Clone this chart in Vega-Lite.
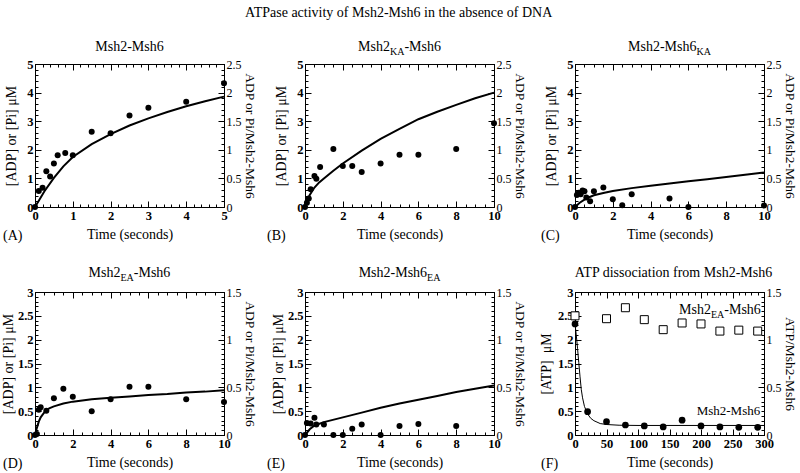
{
"$schema":"https://vega.github.io/schema/vega-lite/v6.json",
"padding":{"left":0,"top":5,"right":0,"bottom":1},
"title":{"text":"ATPase activity of Msh2-Msh6 in the absence of DNA","fontSize":14,"fontWeight":"normal","font":"Liberation Serif","anchor":"middle","offset":20,"color":"black"},
"data":{"values":[
{"p":"A","k":"pt","x":0,"y":0},{"p":"A","k":"pt","x":0.1,"y":0.56},{"p":"A","k":"pt","x":0.2,"y":0.67},{"p":"A","k":"pt","x":0.3,"y":1.25},{"p":"A","k":"pt","x":0.4,"y":1.07},{"p":"A","k":"pt","x":0.5,"y":1.52},{"p":"A","k":"pt","x":0.6,"y":1.81},{"p":"A","k":"pt","x":0.8,"y":1.89},{"p":"A","k":"pt","x":1,"y":1.81},{"p":"A","k":"pt","x":1.5,"y":2.63},{"p":"A","k":"pt","x":2,"y":2.58},{"p":"A","k":"pt","x":2.5,"y":3.2},{"p":"A","k":"pt","x":3,"y":3.47},{"p":"A","k":"pt","x":4,"y":3.68},{"p":"A","k":"pt","x":5,"y":4.33},
{"p":"A","k":"fit","x":0,"y":0},{"p":"A","k":"fit","x":0.1,"y":0.22},{"p":"A","k":"fit","x":0.25,"y":0.55},{"p":"A","k":"fit","x":0.5,"y":1.02},{"p":"A","k":"fit","x":0.75,"y":1.42},{"p":"A","k":"fit","x":1,"y":1.75},{"p":"A","k":"fit","x":1.5,"y":2.2},{"p":"A","k":"fit","x":2,"y":2.55},{"p":"A","k":"fit","x":2.5,"y":2.85},{"p":"A","k":"fit","x":3,"y":3.1},{"p":"A","k":"fit","x":3.5,"y":3.32},{"p":"A","k":"fit","x":4,"y":3.52},{"p":"A","k":"fit","x":4.5,"y":3.7},{"p":"A","k":"fit","x":5,"y":3.86},
{"p":"B","k":"pt","x":0,"y":0},{"p":"B","k":"pt","x":0.1,"y":0.15},{"p":"B","k":"pt","x":0.2,"y":0.3},{"p":"B","k":"pt","x":0.3,"y":0.62},{"p":"B","k":"pt","x":0.5,"y":1.08},{"p":"B","k":"pt","x":0.6,"y":0.99},{"p":"B","k":"pt","x":0.8,"y":1.4},{"p":"B","k":"pt","x":1.5,"y":2.03},{"p":"B","k":"pt","x":2,"y":1.43},{"p":"B","k":"pt","x":2.5,"y":1.43},{"p":"B","k":"pt","x":3,"y":1.22},{"p":"B","k":"pt","x":4,"y":1.52},{"p":"B","k":"pt","x":5,"y":1.83},{"p":"B","k":"pt","x":6,"y":1.83},{"p":"B","k":"pt","x":8,"y":2.03},{"p":"B","k":"pt","x":10,"y":2.93},
{"p":"B","k":"fit","x":0,"y":0},{"p":"B","k":"fit","x":0.1,"y":0.2},{"p":"B","k":"fit","x":0.25,"y":0.42},{"p":"B","k":"fit","x":0.5,"y":0.68},{"p":"B","k":"fit","x":0.75,"y":0.86},{"p":"B","k":"fit","x":1,"y":1.0},{"p":"B","k":"fit","x":1.5,"y":1.27},{"p":"B","k":"fit","x":2,"y":1.52},{"p":"B","k":"fit","x":3,"y":1.97},{"p":"B","k":"fit","x":4,"y":2.38},{"p":"B","k":"fit","x":5,"y":2.73},{"p":"B","k":"fit","x":6,"y":3.07},{"p":"B","k":"fit","x":7,"y":3.33},{"p":"B","k":"fit","x":8,"y":3.57},{"p":"B","k":"fit","x":9,"y":3.8},{"p":"B","k":"fit","x":10,"y":4.0},
{"p":"C","k":"pt","x":0,"y":0},{"p":"C","k":"pt","x":0.1,"y":0.42},{"p":"C","k":"pt","x":0.2,"y":0.5},{"p":"C","k":"pt","x":0.3,"y":0.45},{"p":"C","k":"pt","x":0.4,"y":0.58},{"p":"C","k":"pt","x":0.5,"y":0.55},{"p":"C","k":"pt","x":0.6,"y":0.33},{"p":"C","k":"pt","x":0.8,"y":0.2},{"p":"C","k":"pt","x":1,"y":0.55},{"p":"C","k":"pt","x":1.5,"y":0.68},{"p":"C","k":"pt","x":2,"y":0.27},{"p":"C","k":"pt","x":2.5,"y":0.06},{"p":"C","k":"pt","x":3,"y":0.45},{"p":"C","k":"pt","x":5,"y":0.3},{"p":"C","k":"pt","x":6,"y":0},{"p":"C","k":"pt","x":10,"y":0.05},
{"p":"C","k":"fit","x":0,"y":0},{"p":"C","k":"fit","x":0.25,"y":0.15},{"p":"C","k":"fit","x":0.5,"y":0.26},{"p":"C","k":"fit","x":0.75,"y":0.34},{"p":"C","k":"fit","x":1,"y":0.41},{"p":"C","k":"fit","x":1.5,"y":0.49},{"p":"C","k":"fit","x":2,"y":0.56},{"p":"C","k":"fit","x":3,"y":0.66},{"p":"C","k":"fit","x":4,"y":0.74},{"p":"C","k":"fit","x":5,"y":0.82},{"p":"C","k":"fit","x":6,"y":0.9},{"p":"C","k":"fit","x":7,"y":0.97},{"p":"C","k":"fit","x":8,"y":1.05},{"p":"C","k":"fit","x":9,"y":1.13},{"p":"C","k":"fit","x":10,"y":1.21},
{"p":"D","k":"pt","x":0,"y":0},{"p":"D","k":"pt","x":0.1,"y":0.02},{"p":"D","k":"pt","x":0.2,"y":0.53},{"p":"D","k":"pt","x":0.3,"y":0.58},{"p":"D","k":"pt","x":0.6,"y":0.51},{"p":"D","k":"pt","x":1,"y":0.77},{"p":"D","k":"pt","x":1.5,"y":0.97},{"p":"D","k":"pt","x":2,"y":0.8},{"p":"D","k":"pt","x":3,"y":0.5},{"p":"D","k":"pt","x":4,"y":0.75},{"p":"D","k":"pt","x":5,"y":1.01},{"p":"D","k":"pt","x":6,"y":1.01},{"p":"D","k":"pt","x":8,"y":0.75},{"p":"D","k":"pt","x":10,"y":0.69},
{"p":"D","k":"fit","x":0,"y":0},{"p":"D","k":"fit","x":0.1,"y":0.15},{"p":"D","k":"fit","x":0.2,"y":0.28},{"p":"D","k":"fit","x":0.3,"y":0.37},{"p":"D","k":"fit","x":0.5,"y":0.48},{"p":"D","k":"fit","x":0.75,"y":0.56},{"p":"D","k":"fit","x":1,"y":0.6},{"p":"D","k":"fit","x":1.5,"y":0.66},{"p":"D","k":"fit","x":2,"y":0.7},{"p":"D","k":"fit","x":3,"y":0.75},{"p":"D","k":"fit","x":4,"y":0.78},{"p":"D","k":"fit","x":5,"y":0.81},{"p":"D","k":"fit","x":6,"y":0.84},{"p":"D","k":"fit","x":7,"y":0.86},{"p":"D","k":"fit","x":8,"y":0.89},{"p":"D","k":"fit","x":9,"y":0.91},{"p":"D","k":"fit","x":10,"y":0.94},
{"p":"E","k":"pt","x":0,"y":0},{"p":"E","k":"pt","x":0.1,"y":0.25},{"p":"E","k":"pt","x":0.3,"y":0.24},{"p":"E","k":"pt","x":0.5,"y":0.36},{"p":"E","k":"pt","x":0.6,"y":0.22},{"p":"E","k":"pt","x":1,"y":0.22},{"p":"E","k":"pt","x":1.5,"y":0},{"p":"E","k":"pt","x":2,"y":0},{"p":"E","k":"pt","x":2.5,"y":0.13},{"p":"E","k":"pt","x":3,"y":0.22},{"p":"E","k":"pt","x":4,"y":0},{"p":"E","k":"pt","x":5,"y":0.19},{"p":"E","k":"pt","x":6,"y":0.23},{"p":"E","k":"pt","x":8,"y":0.19},
{"p":"E","k":"fit","x":0,"y":0},{"p":"E","k":"fit","x":0.25,"y":0.12},{"p":"E","k":"fit","x":0.5,"y":0.2},{"p":"E","k":"fit","x":1,"y":0.27},{"p":"E","k":"fit","x":2,"y":0.37},{"p":"E","k":"fit","x":3,"y":0.47},{"p":"E","k":"fit","x":4,"y":0.57},{"p":"E","k":"fit","x":5,"y":0.66},{"p":"E","k":"fit","x":6,"y":0.74},{"p":"E","k":"fit","x":7,"y":0.82},{"p":"E","k":"fit","x":8,"y":0.9},{"p":"E","k":"fit","x":9,"y":0.97},{"p":"E","k":"fit","x":10,"y":1.04},
{"p":"F","k":"pt","x":0,"y":2.33},{"p":"F","k":"pt","x":20,"y":0.49},{"p":"F","k":"pt","x":50,"y":0.28},{"p":"F","k":"pt","x":80,"y":0.21},{"p":"F","k":"pt","x":110,"y":0.19},{"p":"F","k":"pt","x":140,"y":0.17},{"p":"F","k":"pt","x":170,"y":0.31},{"p":"F","k":"pt","x":200,"y":0.19},{"p":"F","k":"pt","x":230,"y":0.17},{"p":"F","k":"pt","x":260,"y":0.16},{"p":"F","k":"pt","x":290,"y":0.16},
{"p":"F","k":"sq","x":0,"y":2.5},{"p":"F","k":"sq","x":50,"y":2.44},{"p":"F","k":"sq","x":80,"y":2.67},{"p":"F","k":"sq","x":110,"y":2.42},{"p":"F","k":"sq","x":140,"y":2.21},{"p":"F","k":"sq","x":170,"y":2.35},{"p":"F","k":"sq","x":200,"y":2.33},{"p":"F","k":"sq","x":230,"y":2.18},{"p":"F","k":"sq","x":260,"y":2.2},{"p":"F","k":"sq","x":290,"y":2.18},
{"p":"F","k":"fit","x":0,"y":2.33},{"p":"F","k":"fit","x":2,"y":2.1},{"p":"F","k":"fit","x":4,"y":1.82},{"p":"F","k":"fit","x":6,"y":1.52},{"p":"F","k":"fit","x":8,"y":1.22},{"p":"F","k":"fit","x":10,"y":0.95},{"p":"F","k":"fit","x":12,"y":0.78},{"p":"F","k":"fit","x":15,"y":0.6},{"p":"F","k":"fit","x":20,"y":0.44},{"p":"F","k":"fit","x":25,"y":0.35},{"p":"F","k":"fit","x":30,"y":0.3},{"p":"F","k":"fit","x":40,"y":0.24},{"p":"F","k":"fit","x":50,"y":0.22},{"p":"F","k":"fit","x":70,"y":0.205},{"p":"F","k":"fit","x":100,"y":0.2},{"p":"F","k":"fit","x":300,"y":0.2}
]},
"columns":3,
"spacing":{"row":85,"column":81},
"bounds":"flush",
"concat":[
{"width":189,"height":143,
"layer":[
{"transform":[{"filter":"datum.p=='A' && datum.k=='pt'"}],
"mark":{"type":"circle","size":36,"color":"black","opacity":1},
"encoding":{
"x":{"field":"x","type":"quantitative","scale":{"domain":[0,5]},"axis":{"orient":"bottom","values":[0,1,2,3,4,5],"title":"Time (seconds)"}},
"y":{"field":"y","type":"quantitative","scale":{"domain":[0,5]},"axis":{"orient":"left","values":[0,1,2,3,4,5],"title":"[ADP] or [Pi] μM","titlePadding":8}}}},
{"transform":[{"filter":"datum.p=='A' && datum.k=='fit'"}],
"mark":{"type":"line","color":"black","strokeWidth":2},
"encoding":{
"x":{"field":"x","type":"quantitative","scale":{"domain":[0,5]},"axis":{"orient":"top","values":[0,1,2,3,4,5],"labels":false,"title":null}},
"y":{"field":"y","type":"quantitative","scale":{"domain":[0,5]},"axis":{"orient":"right","values":[0,1,2,3,4,5],"labelExpr":"datum.value/2","title":"ADP or Pi/Msh2-Msh6"}}}},
{"data":{"values":[{}]},
"mark":{"type":"text","text":"Msh2-Msh6","align":"center","baseline":"alphabetic","dy":-13},
"encoding":{
"x":{"datum":2.5,"type":"quantitative","scale":{"domain":[0,5]},"axis":{"orient":"bottom","tickCount":25,"labels":false,"title":null,"tickSize":-3}},
"y":{"datum":5,"type":"quantitative","scale":{"domain":[0,5]},"axis":{"orient":"left","tickCount":25,"labels":false,"title":null,"tickSize":-3}}}},
{"data":{"values":[{}]},
"mark":{"type":"text","text":"(A)","align":"left","baseline":"middle","dx":-32,"dy":29},
"encoding":{
"x":{"datum":0,"type":"quantitative","scale":{"domain":[0,5]},"axis":{"orient":"top","tickCount":25,"labels":false,"title":null,"tickSize":-3}},
"y":{"datum":0,"type":"quantitative","scale":{"domain":[0,5]},"axis":{"orient":"right","tickCount":25,"labels":false,"title":null,"tickSize":-3}}}}
],
"resolve":{"axis":{"x":"independent","y":"independent"}}},
{"width":189,"height":143,
"layer":[
{"transform":[{"filter":"datum.p=='B' && datum.k=='pt'"}],
"mark":{"type":"circle","size":36,"color":"black","opacity":1},
"encoding":{
"x":{"field":"x","type":"quantitative","scale":{"domain":[0,10]},"axis":{"orient":"bottom","values":[0,2,4,6,8,10],"title":"Time (seconds)"}},
"y":{"field":"y","type":"quantitative","scale":{"domain":[0,5]},"axis":{"orient":"left","values":[0,1,2,3,4,5],"title":"[ADP] or [Pi] μM","titlePadding":8}}}},
{"transform":[{"filter":"datum.p=='B' && datum.k=='fit'"}],
"mark":{"type":"line","color":"black","strokeWidth":2},
"encoding":{
"x":{"field":"x","type":"quantitative","scale":{"domain":[0,10]},"axis":{"orient":"top","values":[0,2,4,6,8,10],"labels":false,"title":null}},
"y":{"field":"y","type":"quantitative","scale":{"domain":[0,5]},"axis":{"orient":"right","values":[0,1,2,3,4,5],"labelExpr":"datum.value/2","title":"ADP or Pi/Msh2-Msh6"}}}},
{"data":{"values":[{}]},
"mark":{"type":"text","text":"Msh2","align":"right","baseline":"alphabetic","dx":-9.5,"dy":-13},
"encoding":{
"x":{"datum":5,"type":"quantitative","scale":{"domain":[0,10]},"axis":{"orient":"bottom","tickCount":20,"labels":false,"title":null,"tickSize":-3}},
"y":{"datum":5,"type":"quantitative","scale":{"domain":[0,5]},"axis":{"orient":"left","tickCount":25,"labels":false,"title":null,"tickSize":-3}}}},
{"data":{"values":[{}]},
"mark":{"type":"text","text":"KA","fontSize":10,"align":"left","baseline":"alphabetic","dx":-9.5,"dy":-9},
"encoding":{
"x":{"datum":5,"type":"quantitative","scale":{"domain":[0,10]},"axis":{"orient":"top","tickCount":20,"labels":false,"title":null,"tickSize":-3}},
"y":{"datum":5,"type":"quantitative","scale":{"domain":[0,5]},"axis":{"orient":"right","tickCount":25,"labels":false,"title":null,"tickSize":-3}}}},
{"data":{"values":[{}]},
"mark":{"type":"text","text":"-Msh6","align":"left","baseline":"alphabetic","dx":4.9,"dy":-13},
"encoding":{
"x":{"datum":5,"type":"quantitative","scale":{"domain":[0,10]},"axis":null},
"y":{"datum":5,"type":"quantitative","scale":{"domain":[0,5]},"axis":null}}},
{"data":{"values":[{}]},
"mark":{"type":"text","text":"(B)","align":"left","baseline":"middle","dx":-38,"dy":29},
"encoding":{
"x":{"datum":0,"type":"quantitative","scale":{"domain":[0,10]},"axis":null},
"y":{"datum":0,"type":"quantitative","scale":{"domain":[0,5]},"axis":null}}}
],
"resolve":{"axis":{"x":"independent","y":"independent"}}},
{"width":189,"height":143,
"layer":[
{"transform":[{"filter":"datum.p=='C' && datum.k=='pt'"}],
"mark":{"type":"circle","size":36,"color":"black","opacity":1},
"encoding":{
"x":{"field":"x","type":"quantitative","scale":{"domain":[0,10]},"axis":{"orient":"bottom","values":[0,2,4,6,8,10],"title":"Time (seconds)"}},
"y":{"field":"y","type":"quantitative","scale":{"domain":[0,5]},"axis":{"orient":"left","values":[0,1,2,3,4,5],"title":"[ADP] or [Pi] μM","titlePadding":8}}}},
{"transform":[{"filter":"datum.p=='C' && datum.k=='fit'"}],
"mark":{"type":"line","color":"black","strokeWidth":2},
"encoding":{
"x":{"field":"x","type":"quantitative","scale":{"domain":[0,10]},"axis":{"orient":"top","values":[0,2,4,6,8,10],"labels":false,"title":null}},
"y":{"field":"y","type":"quantitative","scale":{"domain":[0,5]},"axis":{"orient":"right","values":[0,1,2,3,4,5],"labelExpr":"datum.value/2","title":"ADP or Pi/Msh2-Msh6"}}}},
{"data":{"values":[{}]},
"mark":{"type":"text","text":"Msh2-Msh6","align":"right","baseline":"alphabetic","dx":27,"dy":-13},
"encoding":{
"x":{"datum":5,"type":"quantitative","scale":{"domain":[0,10]},"axis":{"orient":"bottom","tickCount":20,"labels":false,"title":null,"tickSize":-3}},
"y":{"datum":5,"type":"quantitative","scale":{"domain":[0,5]},"axis":{"orient":"left","tickCount":25,"labels":false,"title":null,"tickSize":-3}}}},
{"data":{"values":[{}]},
"mark":{"type":"text","text":"KA","fontSize":10,"align":"left","baseline":"alphabetic","dx":27,"dy":-9},
"encoding":{
"x":{"datum":5,"type":"quantitative","scale":{"domain":[0,10]},"axis":{"orient":"top","tickCount":20,"labels":false,"title":null,"tickSize":-3}},
"y":{"datum":5,"type":"quantitative","scale":{"domain":[0,5]},"axis":{"orient":"right","tickCount":25,"labels":false,"title":null,"tickSize":-3}}}},
{"data":{"values":[{}]},
"mark":{"type":"text","text":"(C)","align":"left","baseline":"middle","dx":-34,"dy":29},
"encoding":{
"x":{"datum":0,"type":"quantitative","scale":{"domain":[0,10]},"axis":null},
"y":{"datum":0,"type":"quantitative","scale":{"domain":[0,5]},"axis":null}}}
],
"resolve":{"axis":{"x":"independent","y":"independent"}}},
{"width":189,"height":143,
"layer":[
{"transform":[{"filter":"datum.p=='D' && datum.k=='pt'"}],
"mark":{"type":"circle","size":36,"color":"black","opacity":1},
"encoding":{
"x":{"field":"x","type":"quantitative","scale":{"domain":[0,10]},"axis":{"orient":"bottom","values":[0,2,4,6,8,10],"title":"Time (seconds)"}},
"y":{"field":"y","type":"quantitative","scale":{"domain":[0,3]},"axis":{"orient":"left","values":[0,0.5,1,1.5,2,2.5,3],"format":"~g","title":"[ADP] or [Pi] μM","titlePadding":2}}}},
{"transform":[{"filter":"datum.p=='D' && datum.k=='fit'"}],
"mark":{"type":"line","color":"black","strokeWidth":2},
"encoding":{
"x":{"field":"x","type":"quantitative","scale":{"domain":[0,10]},"axis":{"orient":"top","values":[0,2,4,6,8,10],"labels":false,"title":null}},
"y":{"field":"y","type":"quantitative","scale":{"domain":[0,3]},"axis":{"orient":"right","values":[0,1,2,3],"labelExpr":"datum.value/2","title":"ADP or Pi/Msh2-Msh6"}}}},
{"data":{"values":[{}]},
"mark":{"type":"text","text":"Msh2","align":"right","baseline":"alphabetic","dx":-9,"dy":-15},
"encoding":{
"x":{"datum":5,"type":"quantitative","scale":{"domain":[0,10]},"axis":{"orient":"bottom","tickCount":20,"labels":false,"title":null,"tickSize":-3}},
"y":{"datum":3,"type":"quantitative","scale":{"domain":[0,3]},"axis":{"orient":"left","tickCount":30,"labels":false,"title":null,"tickSize":-3}}}},
{"data":{"values":[{}]},
"mark":{"type":"text","text":"EA","fontSize":10,"align":"left","baseline":"alphabetic","dx":-9,"dy":-11},
"encoding":{
"x":{"datum":5,"type":"quantitative","scale":{"domain":[0,10]},"axis":{"orient":"top","tickCount":20,"labels":false,"title":null,"tickSize":-3}},
"y":{"datum":3,"type":"quantitative","scale":{"domain":[0,3]},"axis":{"orient":"right","tickCount":30,"labels":false,"title":null,"tickSize":-3}}}},
{"data":{"values":[{}]},
"mark":{"type":"text","text":"-Msh6","align":"left","baseline":"alphabetic","dx":4.3,"dy":-15},
"encoding":{
"x":{"datum":5,"type":"quantitative","scale":{"domain":[0,10]},"axis":null},
"y":{"datum":3,"type":"quantitative","scale":{"domain":[0,3]},"axis":null}}},
{"data":{"values":[{}]},
"mark":{"type":"text","text":"(D)","align":"left","baseline":"middle","dx":-32,"dy":29},
"encoding":{
"x":{"datum":0,"type":"quantitative","scale":{"domain":[0,10]},"axis":null},
"y":{"datum":0,"type":"quantitative","scale":{"domain":[0,3]},"axis":null}}}
],
"resolve":{"axis":{"x":"independent","y":"independent"}}},
{"width":189,"height":143,
"layer":[
{"transform":[{"filter":"datum.p=='E' && datum.k=='pt'"}],
"mark":{"type":"circle","size":36,"color":"black","opacity":1},
"encoding":{
"x":{"field":"x","type":"quantitative","scale":{"domain":[0,10]},"axis":{"orient":"bottom","values":[0,2,4,6,8,10],"title":"Time (seconds)"}},
"y":{"field":"y","type":"quantitative","scale":{"domain":[0,3]},"axis":{"orient":"left","values":[0,0.5,1,1.5,2,2.5,3],"format":"~g","title":"[ADP] or [Pi] μM","titlePadding":2}}}},
{"transform":[{"filter":"datum.p=='E' && datum.k=='fit'"}],
"mark":{"type":"line","color":"black","strokeWidth":2},
"encoding":{
"x":{"field":"x","type":"quantitative","scale":{"domain":[0,10]},"axis":{"orient":"top","values":[0,2,4,6,8,10],"labels":false,"title":null}},
"y":{"field":"y","type":"quantitative","scale":{"domain":[0,3]},"axis":{"orient":"right","values":[0,1,2,3],"labelExpr":"datum.value/2","title":"ADP or Pi/Msh2-Msh6"}}}},
{"data":{"values":[{}]},
"mark":{"type":"text","text":"Msh2-Msh6","align":"right","baseline":"alphabetic","dx":27.6,"dy":-15},
"encoding":{
"x":{"datum":5,"type":"quantitative","scale":{"domain":[0,10]},"axis":{"orient":"bottom","tickCount":20,"labels":false,"title":null,"tickSize":-3}},
"y":{"datum":3,"type":"quantitative","scale":{"domain":[0,3]},"axis":{"orient":"left","tickCount":30,"labels":false,"title":null,"tickSize":-3}}}},
{"data":{"values":[{}]},
"mark":{"type":"text","text":"EA","fontSize":10,"align":"left","baseline":"alphabetic","dx":27.6,"dy":-11},
"encoding":{
"x":{"datum":5,"type":"quantitative","scale":{"domain":[0,10]},"axis":{"orient":"top","tickCount":20,"labels":false,"title":null,"tickSize":-3}},
"y":{"datum":3,"type":"quantitative","scale":{"domain":[0,3]},"axis":{"orient":"right","tickCount":30,"labels":false,"title":null,"tickSize":-3}}}},
{"data":{"values":[{}]},
"mark":{"type":"text","text":"(E)","align":"left","baseline":"middle","dx":-38,"dy":29},
"encoding":{
"x":{"datum":0,"type":"quantitative","scale":{"domain":[0,10]},"axis":null},
"y":{"datum":0,"type":"quantitative","scale":{"domain":[0,3]},"axis":null}}}
],
"resolve":{"axis":{"x":"independent","y":"independent"}}},
{"width":189,"height":143,
"layer":[
{"transform":[{"filter":"datum.p=='F' && datum.k=='pt'"}],
"mark":{"type":"circle","size":45,"color":"black","opacity":1},
"encoding":{
"x":{"field":"x","type":"quantitative","scale":{"domain":[0,300]},"axis":{"orient":"bottom","values":[0,50,100,150,200,250,300],"title":"Time (seconds)"}},
"y":{"field":"y","type":"quantitative","scale":{"domain":[0,3]},"axis":{"orient":"left","values":[0,0.5,1,1.5,2,2.5,3],"format":"~g","title":"[ATP] \u00a0μM","titlePadding":4}}}},
{"transform":[{"filter":"datum.p=='F' && datum.k=='sq'"}],
"mark":{"type":"point","shape":"square","size":64,"filled":false,"stroke":"black","fill":"white","strokeWidth":1,"opacity":1},
"encoding":{
"x":{"field":"x","type":"quantitative","scale":{"domain":[0,300]},"axis":{"orient":"top","values":[0,50,100,150,200,250,300],"labels":false,"title":null}},
"y":{"field":"y","type":"quantitative","scale":{"domain":[0,3]},"axis":{"orient":"right","values":[0,1,2,3],"labelExpr":"datum.value/2","title":"ATP/Msh2-Msh6"}}}},
{"transform":[{"filter":"datum.p=='F' && datum.k=='fit'"}],
"mark":{"type":"line","color":"black","strokeWidth":1},
"encoding":{
"x":{"field":"x","type":"quantitative","scale":{"domain":[0,300]},"axis":{"orient":"bottom","tickCount":30,"labels":false,"title":null,"tickSize":-3}},
"y":{"field":"y","type":"quantitative","scale":{"domain":[0,3]},"axis":{"orient":"left","tickCount":30,"labels":false,"title":null,"tickSize":-3}}}},
{"data":{"values":[{}]},
"mark":{"type":"text","text":"ATP dissociation from Msh2-Msh6","align":"center","baseline":"alphabetic","dx":4,"dy":-15},
"encoding":{
"x":{"datum":150,"type":"quantitative","scale":{"domain":[0,300]},"axis":{"orient":"top","tickCount":30,"labels":false,"title":null,"tickSize":-3}},
"y":{"datum":3,"type":"quantitative","scale":{"domain":[0,3]},"axis":{"orient":"right","tickCount":30,"labels":false,"title":null,"tickSize":-3}}}},
{"data":{"values":[{}]},
"mark":{"type":"text","text":"-Msh6","align":"right","baseline":"alphabetic"},
"encoding":{
"x":{"datum":295,"type":"quantitative","scale":{"domain":[0,300]},"axis":null},
"y":{"datum":2.54,"type":"quantitative","scale":{"domain":[0,3]},"axis":null}}},
{"data":{"values":[{}]},
"mark":{"type":"text","text":"EA","fontSize":10,"align":"right","baseline":"alphabetic","dx":-36.6,"dy":4},
"encoding":{
"x":{"datum":295,"type":"quantitative","scale":{"domain":[0,300]},"axis":null},
"y":{"datum":2.54,"type":"quantitative","scale":{"domain":[0,3]},"axis":null}}},
{"data":{"values":[{}]},
"mark":{"type":"text","text":"Msh2","align":"right","baseline":"alphabetic","dx":-49.9},
"encoding":{
"x":{"datum":295,"type":"quantitative","scale":{"domain":[0,300]},"axis":null},
"y":{"datum":2.54,"type":"quantitative","scale":{"domain":[0,3]},"axis":null}}},
{"data":{"values":[{}]},
"mark":{"type":"text","text":"Msh2-Msh6","align":"right","baseline":"alphabetic","fontSize":13},
"encoding":{
"x":{"datum":294,"type":"quantitative","scale":{"domain":[0,300]},"axis":null},
"y":{"datum":0.42,"type":"quantitative","scale":{"domain":[0,3]},"axis":null}}},
{"data":{"values":[{}]},
"mark":{"type":"text","text":"(F)","align":"left","baseline":"middle","dx":-34,"dy":29},
"encoding":{
"x":{"datum":0,"type":"quantitative","scale":{"domain":[0,300]},"axis":null},
"y":{"datum":0,"type":"quantitative","scale":{"domain":[0,3]},"axis":null}}}
],
"resolve":{"axis":{"x":"independent","y":"independent"}}}
],
"config":{
"font":"Liberation Serif",
"background":"white",
"view":{"stroke":"black","strokeWidth":1},
"axis":{"domain":false,"grid":false,"ticks":true,"tickColor":"black","tickSize":-6,"tickWidth":1,"labelPadding":8,"labelFont":"Liberation Serif","labelFontSize":12.5,"labelFontWeight":"bold","labelColor":"black","labelFlush":false,"labelOverlap":false,"titleFont":"Liberation Serif","titleFontSize":14,"titleFontWeight":"normal","titleColor":"black","titlePadding":6},
"axisRight":{"labelFontWeight":"normal","labelFontSize":12,"labelPadding":8,"titlePadding":1,"titleFontSize":13.5},
"axisTop":{"labels":false},
"text":{"font":"Liberation Serif","fontSize":14,"color":"black"}
}
}
